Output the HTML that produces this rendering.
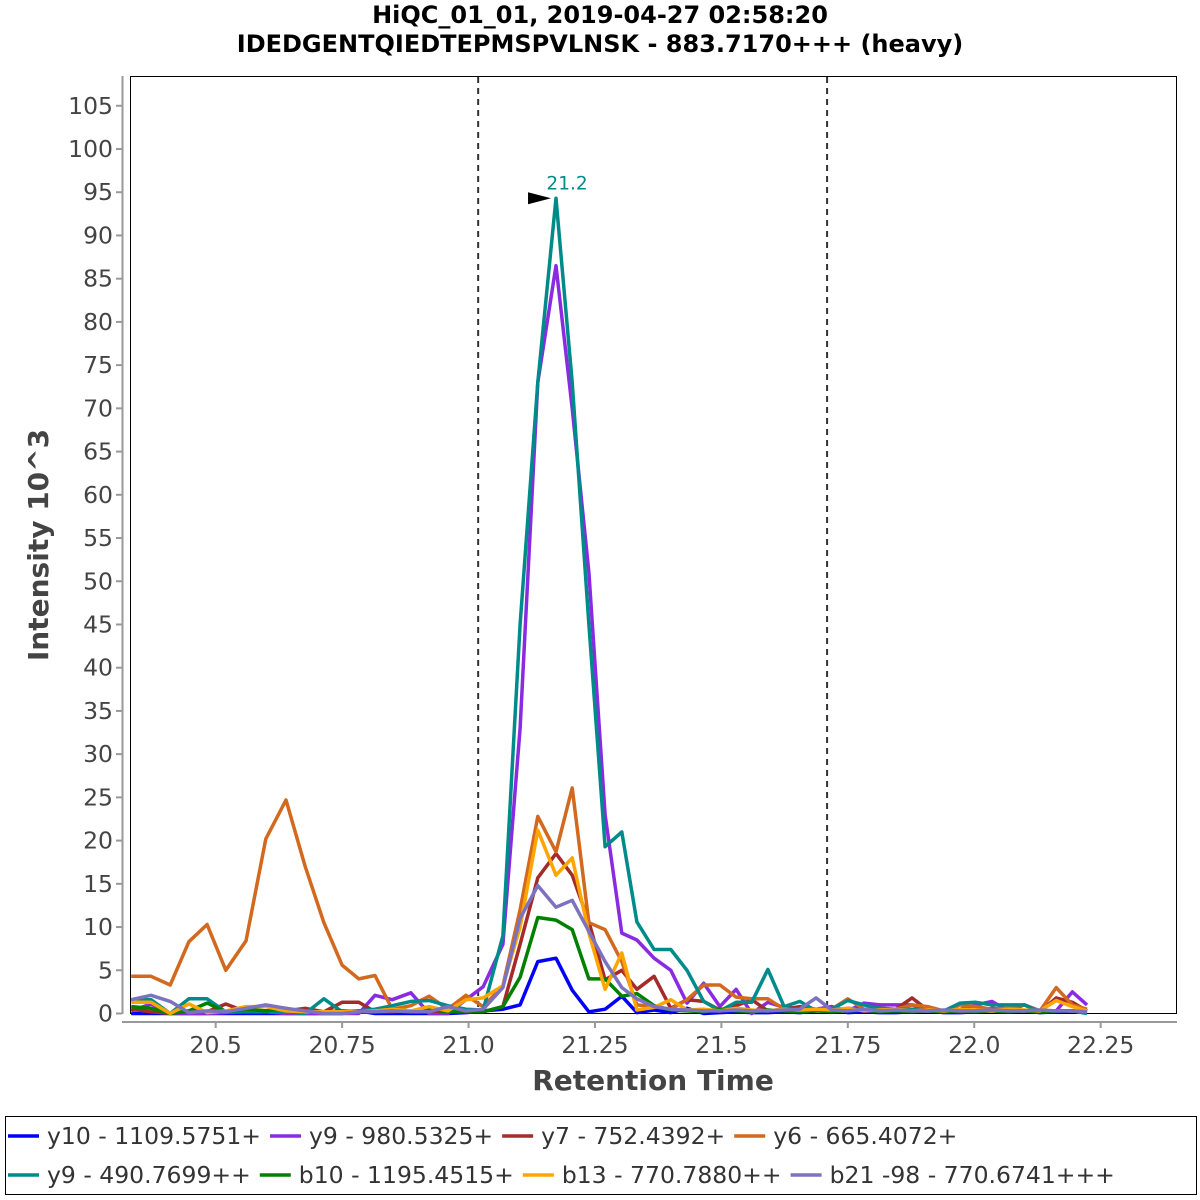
<!DOCTYPE html>
<html><head><meta charset="utf-8"><style>
html,body{margin:0;padding:0;background:#fff}
svg{display:block;font-family:"DejaVu Sans","Liberation Sans",sans-serif}
</style></head><body>
<svg id="chart" width="1200" height="1200" viewBox="0 0 1200 1200">
<text x="600" y="23" text-anchor="middle" font-weight="bold" font-size="24">HiQC_01_01, 2019-04-27 02:58:20</text>
<text x="600" y="52" text-anchor="middle" font-weight="bold" font-size="24">IDEDGENTQIEDTEPMSPVLNSK - 883.7170+++ (heavy)</text>
<rect x="130.5" y="76.5" width="1046" height="937" fill="#fff" stroke="#000" stroke-width="1"/>
<g id="yaxis"></g>
<g id="xaxis"></g>
<g id="bounds"></g>
<g id="series"></g>
<g id="annot"></g>
<text x="653" y="1090" text-anchor="middle" font-weight="bold" font-size="28" fill="#444">Retention Time</text>
<text transform="translate(48,545) rotate(-90)" text-anchor="middle" font-weight="bold" font-size="28" fill="#444">Intensity 10^3</text>
<rect x="5.5" y="1116.5" width="1191" height="78" fill="#fff" stroke="#000"/>
<g id="legend"></g>
</svg>
<script>
const times=[20.333,20.372,20.410,20.447,20.483,20.520,20.560,20.599,20.639,20.677,20.714,20.750,20.783,20.815,20.849,20.886,20.922,20.959,20.995,21.029,21.068,21.102,21.137,21.173,21.205,21.238,21.270,21.303,21.333,21.367,21.400,21.432,21.465,21.497,21.529,21.560,21.592,21.624,21.655,21.687,21.718,21.750,21.782,21.813,21.845,21.877,21.908,21.940,21.972,22.003,22.035,22.067,22.099,22.130,22.162,22.194,22.223];
const seriesNames=["y10 - 1109.5751+","y9 - 980.5325+","y7 - 752.4392+","y6 - 665.4072+","y9 - 490.7699++","b10 - 1195.4515+","b13 - 770.7880++","b21 -98 - 770.6741+++"];
const seriesColors=["#0000ff","#8a2be2","#a52a2a","#d2691e","#008b8b","#008000","#ffa500","#7b72c0"];
const y10=[0,0,0,0,0,0,0,0,0,0,0,0,0.3,0,0,0,0,0,0.1,0.3,0.5,1.0,6.0,6.4,2.7,0.2,0.5,2.0,0.1,0.4,0.1,0.6,0,0.1,0.2,0.1,0.1,0.2,0.1,0.3,0.8,0.1,0.2,0.1,0.1,0.2,0.3,0.1,0.1,0.2,0.3,0.2,0.3,0.1,0.2,0.3,0.1];
const y9a=[0.3,1.1,0,0,0,0.1,0.2,0.2,0,0,0,0,0,2.1,1.6,2.4,0,0,1.6,3.1,8,33,73,86.5,70,51,23,9.3,8.5,6.4,5.0,1.2,3.5,0.8,2.8,0,1.3,0.7,0.6,0.5,0.8,0.3,1.2,1.0,1.0,1.0,0.3,0.3,0.5,1.0,1.4,0.3,1.0,0.3,0.3,2.5,1.0];
const y7=[0.5,0.2,0,0.3,0.2,1.1,0.2,0.3,0.3,0.6,0.2,1.3,1.3,0.2,0.2,0.3,0.3,0.2,0.2,0.2,0.8,8,15.7,18.5,16,10.6,3.9,5.0,2.8,4.3,0.6,1.6,1.4,0.4,0.9,1.6,0.3,0.5,0.8,0.5,0.3,0.6,0.4,0.3,0.5,1.8,0.4,0.3,0.2,0.3,0.6,0.4,0.3,0.2,1.8,1.3,0.3];
const y6=[4.3,4.3,3.3,8.3,10.3,5,8.4,20.2,24.7,17,10.5,5.6,4.0,4.4,0.5,0.9,2.0,0.5,2.1,0.8,3.2,12,22.8,18.7,26.1,10.5,9.7,6,1,0.8,0.5,1.6,3.3,3.3,1.9,1.7,1.7,0.5,0.3,0.5,0.5,1.7,0.5,0.6,0.5,1.0,0.8,0.3,1.0,0.8,0.5,0.6,1.0,0.3,3.0,1.0,0.5];
const y9b=[1.6,1.6,0,1.7,1.7,0.2,0.2,0.2,0.2,0,1.7,0.2,0.3,0.5,0.9,1.4,1.5,0.9,0.5,0.4,9,45,73,94.3,73,45,19.3,21,10.6,7.4,7.4,5.0,1.4,0.3,1.3,1.3,5.1,0.8,1.4,0.3,0.5,1.5,1.0,0.6,0.5,0.5,0.3,0.3,1.2,1.3,1.0,1.0,1.0,0.2,0.3,0.3,0];
const b10=[0.8,0.6,0,0.3,1.2,0.2,0.5,0.3,0.6,0.2,0.2,0.3,0.2,0.3,0.5,0.3,0.5,0.2,0.3,0.2,0.8,4.2,11.1,10.8,9.7,4.0,4.0,2.0,2.3,0.9,0.4,0.3,0.2,0.5,0.3,0.2,0.4,0.3,0.2,0.3,0.2,0.3,0.4,0.2,0.3,0.2,0.3,0.2,0.3,0.2,0.3,0.2,0.3,0.2,0.3,0.3,0.2];
const b13=[1.3,1.3,0,1.1,0.1,0.3,0.8,0.8,0.3,0.2,0.2,0.2,0.2,0.3,0.5,0.3,0.8,0.3,1.6,1.8,3.2,10,21.2,16,18,9.3,2.8,7.0,0.4,0.7,1.6,0.4,0.5,0.3,0.6,0.4,0.3,0.5,0.4,0.5,0.4,0.6,0.3,0.4,0.5,0.3,0.4,0.3,0.5,0.4,0.3,0.5,0.4,0.3,1.5,0.8,0.3];
const b21=[1.6,2.1,1.4,0.1,0.3,0.2,0.6,1.0,0.6,0.3,0,0,0.2,0.2,0.3,0.2,0.2,0.8,0.3,0.5,3.0,11,14.8,12.3,13.1,9.5,6,3,1.7,0.8,0.5,0.4,0.3,0.3,0.4,0.3,0.3,0.4,0.5,1.8,0.4,0.3,0.5,0.3,0.4,0.3,0.3,0.4,0.3,0.3,0.4,0.3,0.3,0.4,0.3,0.3,0.2];
const seriesValues=[y10,y9a,y7,y6,y9b,b10,b13,b21];
const yTicks=[0,5,10,15,20,25,30,35,40,45,50,55,60,65,70,75,80,85,90,95,100,105];
const xTicks=[20.5,20.75,21.0,21.25,21.5,21.75,22.0,22.25];
const xTickLabels=["20.5","20.75","21.0","21.25","21.5","21.75","22.0","22.25"];
const boundaries=[21.019,21.709];
const peakLabel="21.2";

const NS="http://www.w3.org/2000/svg";
function X(t){return 215.7+(t-20.5)*505.7;}
function Y(v){return 1013.5-v*8.645;}
function mk(tag,attrs,parent){const e=document.createElementNS(NS,tag);for(const k in attrs)e.setAttribute(k,attrs[k]);parent.appendChild(e);return e;}

const ya=document.getElementById('yaxis');
let ax=mk('line',{x1:122.5,y1:76,x2:122.5,y2:1014,stroke:'#999','stroke-width':2},ya);


yTicks.forEach(v=>{
  const tk=mk('line',{x1:116,y1:Y(v),x2:122,y2:Y(v),stroke:'#999','stroke-width':2},ya);
  
  
  const tx=mk('text',{x:113,y:Y(v)+8,'text-anchor':'end','font-size':23.5,fill:'#444'},ya);
  tx.textContent=v;
  
  
});
const xa=document.getElementById('xaxis');
let bx=mk('line',{x1:122,y1:1022,x2:1177,y2:1022,stroke:'#999','stroke-width':2},xa);


xTicks.forEach((v,i)=>{
  const tk=mk('line',{x1:X(v),y1:1022,x2:X(v),y2:1028,stroke:'#999','stroke-width':2},xa);
  
  
  const tx=mk('text',{x:X(v),y:1053,'text-anchor':'middle','font-size':23.5,fill:'#444'},xa);
  tx.textContent=xTickLabels[i];
  
  
});
const bd=document.getElementById('bounds');
boundaries.forEach(b=>{
  const l=mk('line',{x1:X(b),y1:77,x2:X(b),y2:1013,stroke:'#333','stroke-width':2,'stroke-dasharray':'6,5'},bd);
  
  
});
const sg=document.getElementById('series');
seriesValues.forEach((vals,si)=>{
  const pts=vals.map((v,i)=>X(times[i]).toFixed(1)+','+Y(v).toFixed(1)).join(' ');
  const p=mk('polyline',{points:pts,fill:'none',stroke:seriesColors[si],'stroke-width':3.5,'stroke-linejoin':'round'},sg);
  
  
});
let mi=0;y9b.forEach((v,i)=>{if(v>y9b[mi])mi=i;});
const an=document.getElementById('annot');
const px=X(times[mi]),py=Y(y9b[mi]);
const tri=mk('polygon',{points:(px-28)+','+(py-6)+' '+(px-5)+','+(py)+' '+(px-28)+','+(py+6),fill:'#000'},an);


const at=mk('text',{x:px+11,y:py-9,'text-anchor':'middle','font-size':18.5,fill:'#008b8b'},an);
at.textContent=peakLabel;


const lg=document.getElementById('legend');
let cx=8;
seriesNames.forEach((n,i)=>{
  if(i===4)cx=8;
  const cy=i<4?1136:1175;
  const g=mk('g',{},lg);
  
  
  mk('line',{x1:cx,y1:cy,x2:cx+31,y2:cy,stroke:seriesColors[i],'stroke-width':3.5},g);
  const t=mk('text',{x:cx+39,y:cy+8,'font-size':23.5,fill:'#333'},g);
  t.textContent=n;
  cx+=39+t.getComputedTextLength()+9;
});
</script>
</body></html>
